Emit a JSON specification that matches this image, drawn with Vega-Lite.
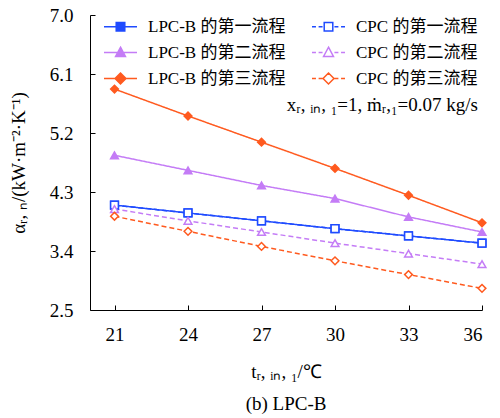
{
  "$schema": "https://vega.github.io/schema/vega-lite/v6.json",
  "autosize": {"type": "none"},
  "width": 392,
  "height": 295,
  "padding": {"left": 90, "top": 15, "right": 18, "bottom": 108},
  "background": "white",
  "config": {
    "font": "Liberation Serif, Noto Sans CJK SC",
    "view": {"stroke": null},
    "axis": {
      "grid": false,
      "domainColor": "black",
      "tickColor": "black",
      "labelColor": "black",
      "titleColor": "black",
      "labelFontSize": 19,
      "titleFontSize": 19,
      "titleFontWeight": "normal",
      "labelFont": "Liberation Serif",
      "titleFont": "Liberation Serif"
    },
    "legend": {
      "orient": "none",
      "legendX": 13,
      "legendY": -6,
      "columns": 2,
      "columnPadding": 23,
      "rowPadding": -6,
      "symbolSize": 1089,
      "symbolStrokeWidth": 1.5,
      "labelFontSize": 17,
      "labelFont": "Liberation Serif, Noto Sans CJK SC",
      "labelColor": "black",
      "labelOffset": 10
    }
  },
  "title": {
    "text": "(b) LPC-B",
    "orient": "bottom",
    "anchor": "middle",
    "fontSize": 19,
    "fontWeight": "normal",
    "font": "Liberation Serif",
    "color": "black",
    "offset": 14
  },
  "data": {
    "values": [
      {"t": 21, "v": 4.10, "s": "LPC-B 的第一流程"},
      {"t": 24, "v": 3.98, "s": "LPC-B 的第一流程"},
      {"t": 27, "v": 3.86, "s": "LPC-B 的第一流程"},
      {"t": 30, "v": 3.74, "s": "LPC-B 的第一流程"},
      {"t": 33, "v": 3.63, "s": "LPC-B 的第一流程"},
      {"t": 36, "v": 3.52, "s": "LPC-B 的第一流程"},
      {"t": 21, "v": 4.86, "s": "LPC-B 的第二流程"},
      {"t": 24, "v": 4.63, "s": "LPC-B 的第二流程"},
      {"t": 27, "v": 4.40, "s": "LPC-B 的第二流程"},
      {"t": 30, "v": 4.20, "s": "LPC-B 的第二流程"},
      {"t": 33, "v": 3.92, "s": "LPC-B 的第二流程"},
      {"t": 36, "v": 3.69, "s": "LPC-B 的第二流程"},
      {"t": 21, "v": 5.87, "s": "LPC-B 的第三流程"},
      {"t": 24, "v": 5.46, "s": "LPC-B 的第三流程"},
      {"t": 27, "v": 5.06, "s": "LPC-B 的第三流程"},
      {"t": 30, "v": 4.66, "s": "LPC-B 的第三流程"},
      {"t": 33, "v": 4.25, "s": "LPC-B 的第三流程"},
      {"t": 36, "v": 3.83, "s": "LPC-B 的第三流程"},
      {"t": 21, "v": 4.10, "s": "CPC 的第一流程"},
      {"t": 24, "v": 3.98, "s": "CPC 的第一流程"},
      {"t": 27, "v": 3.86, "s": "CPC 的第一流程"},
      {"t": 30, "v": 3.74, "s": "CPC 的第一流程"},
      {"t": 33, "v": 3.63, "s": "CPC 的第一流程"},
      {"t": 36, "v": 3.52, "s": "CPC 的第一流程"},
      {"t": 21, "v": 4.04, "s": "CPC 的第二流程"},
      {"t": 24, "v": 3.86, "s": "CPC 的第二流程"},
      {"t": 27, "v": 3.69, "s": "CPC 的第二流程"},
      {"t": 30, "v": 3.52, "s": "CPC 的第二流程"},
      {"t": 33, "v": 3.36, "s": "CPC 的第二流程"},
      {"t": 36, "v": 3.20, "s": "CPC 的第二流程"},
      {"t": 21, "v": 3.93, "s": "CPC 的第三流程"},
      {"t": 24, "v": 3.70, "s": "CPC 的第三流程"},
      {"t": 27, "v": 3.47, "s": "CPC 的第三流程"},
      {"t": 30, "v": 3.25, "s": "CPC 的第三流程"},
      {"t": 33, "v": 3.04, "s": "CPC 的第三流程"},
      {"t": 36, "v": 2.83, "s": "CPC 的第三流程"}
    ]
  },
  "encoding": {
    "x": {
      "field": "t", "type": "quantitative",
      "scale": {"domain": [20, 36], "nice": false, "zero": false},
      "axis": {
        "values": [21, 24, 27, 30, 33, 36],
        "title": "tᵣ, ᵢₙ, ₁/℃",
        "tickSize": -5,
        "labelPadding": 20,
        "titlePadding": 18
      }
    },
    "y": {
      "field": "v", "type": "quantitative",
      "scale": {"domain": [2.5, 7.0], "nice": false, "zero": false},
      "axis": {
        "values": [2.5, 3.4, 4.3, 5.2, 6.1, 7.0],
        "format": ".1f",
        "title": "αᵣ, ₙ/(kW·m⁻²·K⁻¹)",
        "tickSize": -5,
        "labelPadding": 22,
        "titlePadding": 21
      }
    }
  },
  "layer": [
    {
      "mark": {"type": "line", "strokeWidth": 1.5},
      "encoding": {
        "color": {
          "field": "s", "type": "nominal", "legend": null,
          "scale": {
            "domain": ["LPC-B 的第一流程", "CPC 的第一流程", "LPC-B 的第二流程", "CPC 的第二流程", "LPC-B 的第三流程", "CPC 的第三流程"],
            "range": ["#1F4BFF", "#1F4BFF", "#C47CF6", "#C47CF6", "#FF5A1F", "#FF5A1F"]
          }
        },
        "strokeDash": {
          "field": "s", "type": "nominal", "legend": null,
          "scale": {
            "domain": ["LPC-B 的第一流程", "CPC 的第一流程", "LPC-B 的第二流程", "CPC 的第二流程", "LPC-B 的第三流程", "CPC 的第三流程"],
            "range": [[1, 0], [5, 3], [1, 0], [5, 3], [1, 0], [5, 3]]
          }
        }
      }
    },
    {
      "mark": {"type": "point", "strokeWidth": 1.5, "opacity": 1, "size": 60, "filled": false},
      "encoding": {
        "stroke": {
          "field": "s", "type": "nominal",
          "scale": {
            "domain": ["LPC-B 的第一流程", "LPC-B 的第二流程", "LPC-B 的第三流程", "CPC 的第一流程", "CPC 的第二流程", "CPC 的第三流程"],
            "range": ["#1F4BFF", "#C47CF6", "#FF5A1F", "#1F4BFF", "#C47CF6", "#FF5A1F"]
          },
          "legend": {
            "title": null,
            "symbolType": {"expr": "['M-1,0H1M-0.26,-0.26H0.26V0.26H-0.26Z', 'M-1,0H1M0,-0.32L0.3,0.24H-0.3Z', 'M-1,0H1M0,-0.33L0.33,0L0,0.33L-0.33,0Z', 'M-1,0H-0.76M-0.6,0H-0.36M0.36,0H0.6M0.76,0H1M-0.26,-0.26H0.26V0.26H-0.26Z', 'M-1,0H-0.76M-0.6,0H-0.36M0.36,0H0.6M0.76,0H1M0,-0.32L0.3,0.24H-0.3Z', 'M-1,0H-0.76M-0.6,0H-0.36M0.36,0H0.6M0.76,0H1M0,-0.33L0.33,0L0,0.33L-0.33,0Z'][indexof(['LPC-B 的第一流程', 'LPC-B 的第二流程', 'LPC-B 的第三流程', 'CPC 的第一流程', 'CPC 的第二流程', 'CPC 的第三流程'], datum.value)]"}
          }
        },
        "fill": {
          "field": "s", "type": "nominal",
          "scale": {
            "domain": ["LPC-B 的第一流程", "LPC-B 的第二流程", "LPC-B 的第三流程", "CPC 的第一流程", "CPC 的第二流程", "CPC 的第三流程"],
            "range": ["#1F4BFF", "#C47CF6", "#FF5A1F", "white", "white", "white"]
          },
          "legend": {
            "title": null,
            "symbolType": {"expr": "['M-1,0H1M-0.26,-0.26H0.26V0.26H-0.26Z', 'M-1,0H1M0,-0.32L0.3,0.24H-0.3Z', 'M-1,0H1M0,-0.33L0.33,0L0,0.33L-0.33,0Z', 'M-1,0H-0.76M-0.6,0H-0.36M0.36,0H0.6M0.76,0H1M-0.26,-0.26H0.26V0.26H-0.26Z', 'M-1,0H-0.76M-0.6,0H-0.36M0.36,0H0.6M0.76,0H1M0,-0.32L0.3,0.24H-0.3Z', 'M-1,0H-0.76M-0.6,0H-0.36M0.36,0H0.6M0.76,0H1M0,-0.33L0.33,0L0,0.33L-0.33,0Z'][indexof(['LPC-B 的第一流程', 'LPC-B 的第二流程', 'LPC-B 的第三流程', 'CPC 的第一流程', 'CPC 的第二流程', 'CPC 的第三流程'], datum.value)]"}
          }
        },
        "shape": {
          "field": "s", "type": "nominal", "legend": null,
          "scale": {
            "domain": ["CPC 的第一流程", "CPC 的第二流程", "CPC 的第三流程", "LPC-B 的第一流程", "LPC-B 的第二流程", "LPC-B 的第三流程"],
            "range": ["square", "triangle-up", "diamond", "square", "triangle-up", "diamond"]
          }
        }
      }
    },
    {
      "data": {"values": [{"t": 36, "v": 5.62, "label": "xᵣ, ᵢₙ, ₁=1, ṁᵣ,₁=0.07 kg/s"}]},
      "mark": {"type": "text", "align": "right", "baseline": "middle", "dx": -4, "fontSize": 19, "font": "Liberation Serif", "color": "black"},
      "encoding": {"text": {"field": "label"}}
    }
  ]
}
